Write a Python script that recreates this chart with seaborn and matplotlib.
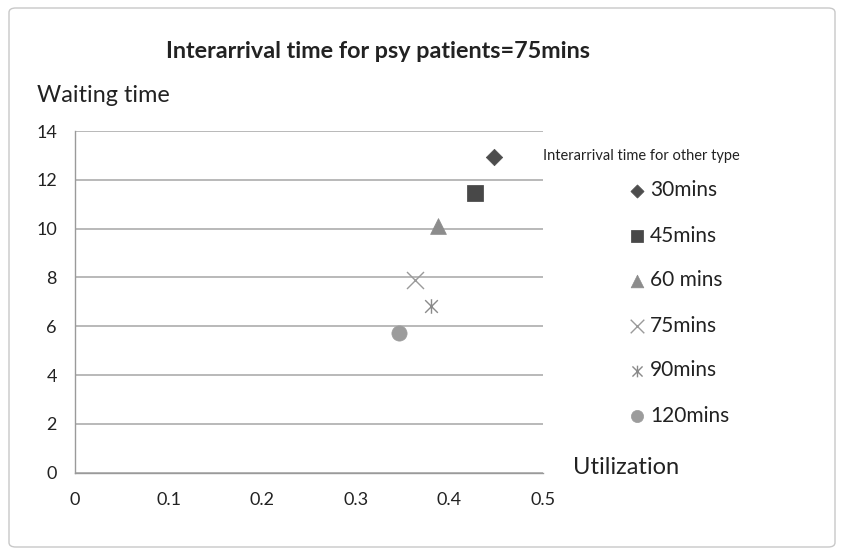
import matplotlib
matplotlib.use("Agg")
import matplotlib.pyplot as plt
import seaborn as sns
import numpy as np
from matplotlib.path import Path
from matplotlib.patches import FancyBboxPatch

# ---- data ----
series = ["30mins", "45mins", "60 mins", "75mins", "90mins", "120mins"]
utilization = [0.448, 0.427, 0.3875, 0.363, 0.380, 0.3465]
waiting = [12.93, 11.48, 10.1, 7.90, 6.83, 5.71]
x_ticks = [0, 0.1, 0.2, 0.3, 0.4, 0.5]
x_tick_labels = ["0", "0.1", "0.2", "0.3", "0.4", "0.5"]
y_ticks = [0, 2, 4, 6, 8, 10, 12, 14]

sns.set_theme(style="white")
FONT = ["Lato", "DejaVu Sans"]
plt.rcParams["font.family"] = FONT

# asterisk marker (X with vertical bar)
ast = Path([(-1, -1), (1, 1), (-1, 1), (1, -1), (0, -1.15), (0, 1.15)],
           [Path.MOVETO, Path.LINETO, Path.MOVETO, Path.LINETO, Path.MOVETO, Path.LINETO])

styles = [
    dict(marker="D", color="#4d4d4d", s=70, lw=0.5, fc="#4d4d4d"),
    dict(marker="s", color="#3f3f3f", s=125, lw=0.5, fc="#484848"),
    dict(marker="^", color="#8c8c8c", s=130, lw=0.5, fc="#8c8c8c"),
    dict(marker="x", color="#9a9a9a", s=150, lw=1.0, fc="#9a9a9a"),
    dict(marker=ast, color="#8a8a8a", s=110, lw=1.0, fc="none"),
    dict(marker="o", color="#9c9c9c", s=120, lw=0.5, fc="#9c9c9c"),
]

fig = plt.figure(figsize=(8.42, 5.55), dpi=100)
fig.patch.set_facecolor("white")
border = FancyBboxPatch((9 / 842, 8 / 555), 826 / 842, 539 / 555,
                        boxstyle="round,pad=0,rounding_size=0.008",
                        transform=fig.transFigure, facecolor="none",
                        edgecolor="#c8c8c8", linewidth=1.0)
fig.patches.append(border)

ax = fig.add_axes([75 / 842, 1 - 472.7 / 555, 468 / 842, (472.7 - 131) / 555])
ax.set_facecolor("white")

for i, name in enumerate(series):
    st = styles[i]
    sns.scatterplot(x=[utilization[i]], y=[waiting[i]], marker=st["marker"],
                    s=st["s"], color=st["fc"] if st["fc"] != "none" else st["color"],
                    edgecolor=st["color"], linewidth=st["lw"], label=name,
                    ax=ax, zorder=3)

ax.set_xlim(0, 0.5)
ax.set_ylim(0, 14)
ax.set_xticks(x_ticks)
ax.set_xticklabels(x_tick_labels)
ax.set_yticks(y_ticks)
ax.yaxis.grid(True, color="#a6a6a6", linewidth=1.1)
ax.xaxis.grid(False)
for sp in ["top", "right"]:
    ax.spines[sp].set_visible(False)
for sp in ["left", "bottom"]:
    ax.spines[sp].set_color("#9a9a9a")
    ax.spines[sp].set_linewidth(1.0)
ax.tick_params(axis="both", which="major", direction="out", length=6, width=1,
               color="#9a9a9a", labelsize=13, labelcolor="#222222")
ax.tick_params(axis="x", pad=8)
ax.tick_params(axis="y", pad=7)

ax.set_xlabel("Utilization", fontsize=17, color="#222222", ha="left", va="center")
ax.xaxis.set_label_coords((573 - 75) / 468, (472.7 - 467) / 341.7)
ax.set_ylabel("Waiting time", fontsize=16.8, color="#222222", rotation=0,
              ha="left", va="center")
ax.yaxis.set_label_coords((37 - 75) / 468, (472.7 - 95) / 341.7)

fig.text(378 / 842, 1 - 52 / 555, "Interarrival time for psy patients=75mins",
         ha="center", va="center", fontsize=16.8, fontweight="bold", color="#222222")

fig.text(543 / 842, 1 - 156 / 555, "Interarrival time for other type",
         ha="left", va="center", fontsize=10.5, color="#222222")

leg = ax.legend(loc="upper left", bbox_to_anchor=(628 / 842, 1 - 180.5 / 555),
                bbox_transform=fig.transFigure, frameon=False, fontsize=15,
                labelspacing=1.2, handletextpad=0.15, handlelength=0.9,
                borderaxespad=0, borderpad=0, markerscale=0.8)
for t in leg.get_texts():
    t.set_color("#222222")

fig.savefig("out.png", dpi=100, facecolor="white")
